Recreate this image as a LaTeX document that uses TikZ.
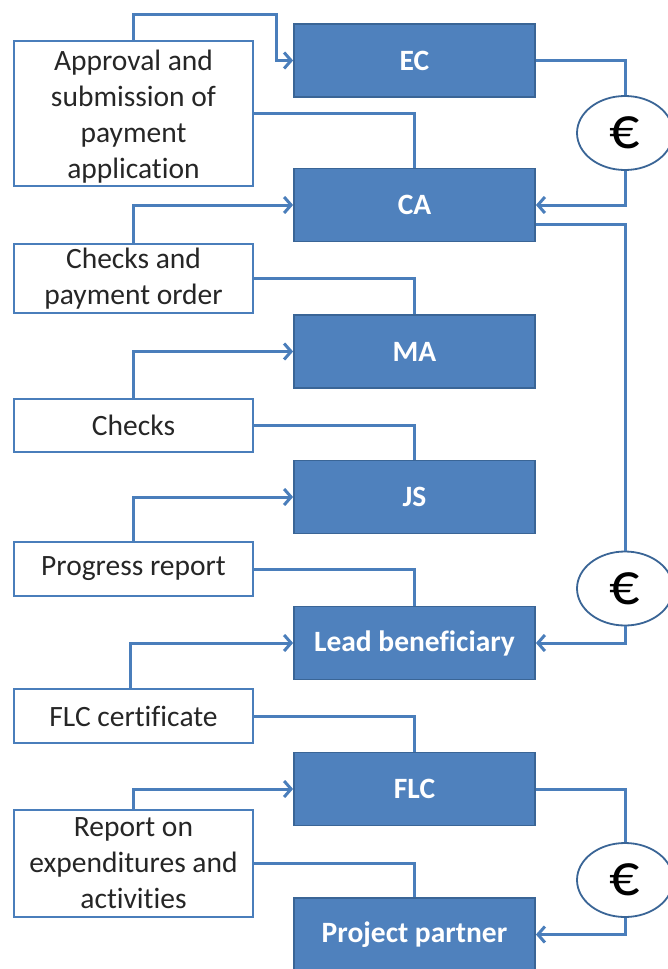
\documentclass[tikz,border=0pt]{standalone}
\usepackage{fontspec}
\setmainfont{Carlito}[Ligatures=NoCommon]
\usetikzlibrary{arrows.meta,shapes.geometric}
\definecolor{boxblue}{HTML}{4F81BD}
\definecolor{boxedge}{HTML}{3A6596}
\definecolor{lineblue}{HTML}{4A7EBB}
\definecolor{txtgray}{HTML}{262626}
\tikzset{
  bluebox/.style={draw=boxedge, line width=1.8pt, fill=boxblue, minimum width=241pt, minimum height=73pt,
    inner sep=0pt, text=white, font=\fontsize{29.5}{36}\selectfont\bfseries},
  whitebox/.style={draw=lineblue, line width=2.4pt, fill=white, minimum width=239pt, inner sep=0pt,
    text=txtgray, align=center, font=\fontsize{29.5}{36}\selectfont},
  eurobox/.style={ellipse, draw=boxedge, line width=1.8pt, fill=white, minimum width=96pt, minimum height=74pt,
    inner sep=0pt, font=\fontsize{60}{66}\selectfont},
  ln/.style={draw=lineblue, line width=3pt},
  arr/.style={ln, -{Straight Barb[length=7pt,width=16pt]}},
}
\begin{document}
\begin{tikzpicture}[x=1pt,y=-1pt]
\clip (0,0) rectangle (668,969);
\fill[white] (0,0) rectangle (668,969);
% blue boxes
\node[bluebox] (ec)  at (414.5,60.5) {EC};
\node[bluebox] (ca)  at (414.5,205) {CA};
\node[bluebox] (ma)  at (414.5,351.5) {MA};
\node[bluebox] (js)  at (414.5,497) {JS};
\node[bluebox] (lb)  at (414.5,643) {Lead beneficiary};
\node[bluebox] (flc) at (414.5,789) {FLC};
\node[bluebox] (pp)  at (414.5,934.5) {Project partner};
% white boxes
\node[whitebox, minimum height=145pt] (appr) at (133.5,113.5) {\raisebox{-3pt}[\height][\depth]{\parbox{239pt}{\centering Approval and\\submission of\\payment\\application}}};
\node[whitebox, minimum height=69pt] (cpo) at (133.5,278.5) {Checks and\\payment order};
\node[whitebox, minimum height=53pt] (chk) at (133.5,425.5) {Checks};
\node[whitebox, minimum height=54pt] (prog) at (133.5,569) {Progress report};
\node[whitebox, minimum height=54pt] (flcc) at (133.5,716) {FLC certificate};
\node[whitebox, minimum height=107pt] (rep) at (133.5,863.5) {Report on\\expenditures and\\activities};
% euro ellipses
\node[eurobox] (e1) at (625,133) {€};
\node[eurobox] (e2) at (625,588.5) {€};
\node[eurobox] (e3) at (625,880) {€};
\coordinate (k1) at (276,14);
% left connectors
\draw[arr] (appr.north) |- (k1) |- (ec.west);
\draw[ln] (appr.east) -| (ca.north);
\draw[arr] (cpo.north) |- (ca.west);
\draw[ln] (cpo.east) -| (ma.north);
\draw[arr] (chk.north) |- (ma.west);
\draw[ln] (chk.east) -| (js.north);
\draw[arr] (prog.north) |- (js.west);
\draw[ln] (prog.east) -| (lb.north);
\draw[arr] ([xshift=-3.5pt]flcc.north) |- (lb.west);
\draw[ln] (flcc.east) -| (flc.north);
\draw[arr] (rep.north) |- (flc.west);
\draw[ln] (rep.east) -| (pp.north);
% right connectors
\draw[ln] (ec.east) -| (e1.north);
\draw[arr] (e1.south) |- (ca.east);
\draw[ln] ([yshift=-19pt]ca.east) -| (e2.north);
\draw[arr] (e2.south) |- (lb.east);
\draw[ln] (flc.east) -| (e3.north);
\draw[arr] (e3.south) |- (pp.east);
\end{tikzpicture}
\end{document}
